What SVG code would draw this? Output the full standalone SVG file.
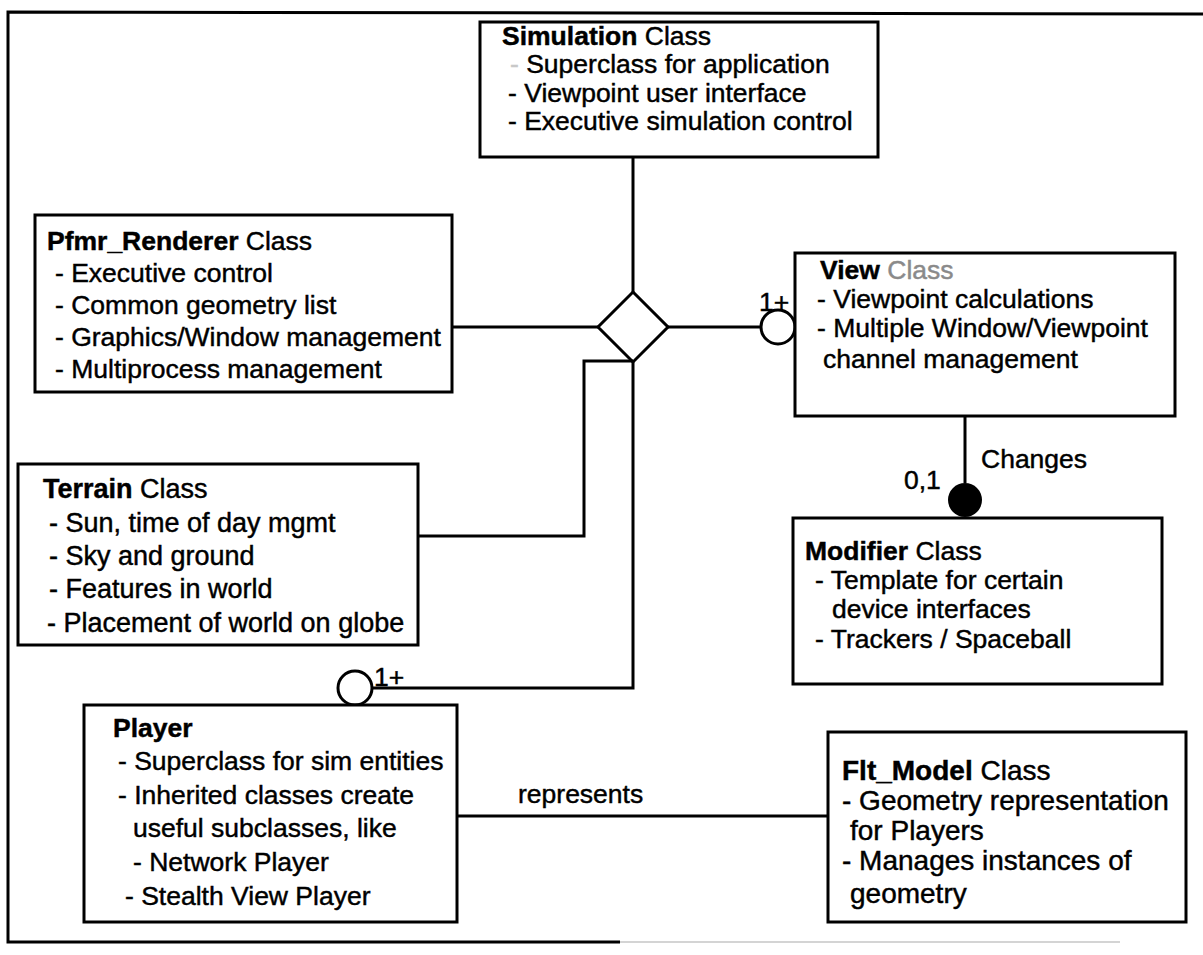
<svg xmlns="http://www.w3.org/2000/svg" width="1203" height="955" viewBox="0 0 1203 955">
  <style>
    .box { fill: #fff; stroke: #000; stroke-width: 3; }
    .ln { fill: none; stroke: #000; stroke-width: 3; }
    text { font-family: "Liberation Sans", Arial, Helvetica, sans-serif; font-size: 26.5px; fill: #000; stroke: #000; stroke-width: 0.45; }
    .name { font-weight: bold; }
    .t27 { font-size: 27px; }
    .t28 { font-size: 28px; }
    .faint { fill: #c8c8c8; stroke: #c8c8c8; }
    .smudge { fill: #8a8a8a; stroke: #8a8a8a; }
  </style>
  <rect width="1203" height="955" fill="#fff"/>

  <!-- page frame, open on the right, lower edge fading out -->
  <path class="ln" d="M1203,14 L8,12 V942 H620"/>
  <path d="M620,942 H1120" fill="none" stroke="#d4d4d4" stroke-width="2"/>

  <!-- relationships -->
  <g id="connectors">
    <path class="ln" d="M633,157 V292"/>
    <polygon class="ln" points="633,292 668,327 633,362 598,327" fill="#fff"/>
    <path class="ln" d="M452,327 H598"/>
    <path class="ln" d="M668,327 H761"/>
    <circle class="ln" cx="778" cy="327" r="17" fill="#fff"/>
    <path class="ln" d="M633,362 V688 H372"/>
    <circle class="ln" cx="355" cy="688" r="17" fill="#fff"/>
    <path class="ln" d="M418,536 H584 V361 H633"/>
    <path class="ln" d="M965,416 V483"/>
    <circle cx="965" cy="500" r="17" fill="#000"/>
    <path class="ln" d="M457,816 H828"/>
    <text x="759" y="311">1+</text>
    <text x="374" y="686">1+</text>
    <text x="981" y="468">Changes</text>
    <text x="904" y="489">0,1</text>
    <text x="518" y="803">represents</text>
  </g>

  <g id="simulation">
    <rect class="box" x="480" y="22" width="398" height="135"/>
    <text x="502" y="45"><tspan class="name">Simulation</tspan>  Class</text>
    <text x="510" y="73"><tspan class="faint">-</tspan> Superclass for application</text>
    <text x="508" y="102">- Viewpoint user interface</text>
    <text x="508" y="130">- Executive simulation control</text>
  </g>

  <g id="pfmr-renderer">
    <rect class="box" x="35" y="215" width="417" height="177"/>
    <text x="47" y="250"><tspan class="name">Pfmr_Renderer</tspan> Class</text>
    <text x="55" y="282">- Executive control</text>
    <text x="55" y="314">- Common geometry list</text>
    <text x="55" y="346">- Graphics/Window management</text>
    <text x="55" y="378">- Multiprocess management</text>
  </g>

  <g id="view">
    <rect class="box" x="795" y="253" width="380" height="163"/>
    <text x="820" y="279"><tspan class="name">View</tspan>  <tspan class="smudge">Class</tspan></text>
    <text x="817" y="308">- Viewpoint calculations</text>
    <text x="817" y="337">- Multiple Window/Viewpoint</text>
    <text x="823" y="368">channel management</text>
  </g>

  <g id="modifier">
    <rect class="box" x="793" y="518" width="369" height="166"/>
    <text x="805" y="560"><tspan class="name">Modifier</tspan>  Class</text>
    <text x="815" y="589">- Template for certain</text>
    <text x="832" y="618">device interfaces</text>
    <text x="815" y="648">- Trackers / Spaceball</text>
  </g>

  <g id="terrain">
    <rect class="box" x="18" y="464" width="400" height="181"/>
    <text class="t27" x="43" y="498"><tspan class="name">Terrain</tspan> Class</text>
    <text class="t27" x="49" y="532">- Sun, time of day mgmt</text>
    <text class="t27" x="49" y="565">- Sky and ground</text>
    <text class="t27" x="49" y="598">- Features in world</text>
    <text class="t27" x="47" y="632">- Placement of world on globe</text>
  </g>

  <g id="player">
    <rect class="box" x="84" y="705" width="373" height="217"/>
    <text class="name" x="113" y="737">Player</text>
    <text x="118" y="770">- Superclass for sim entities</text>
    <text x="118" y="804">- Inherited classes create</text>
    <text x="133" y="837">useful subclasses, like</text>
    <text x="133" y="871">- Network Player</text>
    <text x="125" y="905">- Stealth View Player</text>
  </g>

  <g id="flt-model">
    <rect class="box" x="828" y="732" width="358" height="190"/>
    <text class="t28" x="842" y="780"><tspan class="name">Flt_Model</tspan> Class</text>
    <text class="t28" x="842" y="810">- Geometry representation</text>
    <text class="t28" x="850" y="840">for Players</text>
    <text class="t28" x="842" y="870">- Manages instances of</text>
    <text class="t28" x="850" y="903">geometry</text>
  </g>
</svg>
